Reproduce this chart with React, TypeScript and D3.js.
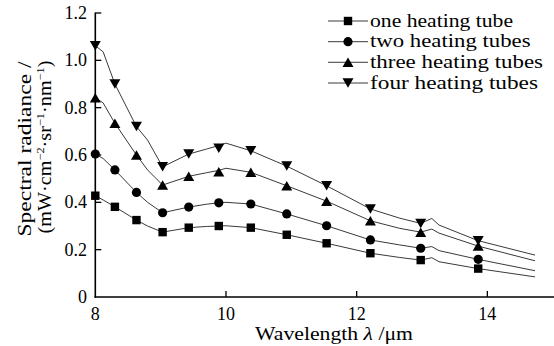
import React from "react";
import * as d3 from "d3";

const lineX = [8.0, 8.12, 8.3, 8.63, 8.8, 9.03, 9.43, 9.7, 9.89, 10.0, 10.38, 10.93, 11.54, 12.21, 12.66, 12.98, 13.15, 13.26, 13.86, 14.73];
const lineOne = [0.428, 0.41, 0.381, 0.325, 0.30, 0.274, 0.293, 0.298, 0.300, 0.301, 0.293, 0.263, 0.227, 0.185, 0.167, 0.156, 0.166, 0.149, 0.120, 0.085];
const lineTwo = [0.604, 0.585, 0.537, 0.442, 0.40, 0.356, 0.380, 0.392, 0.398, 0.400, 0.393, 0.351, 0.301, 0.241, 0.22, 0.206, 0.213, 0.196, 0.159, 0.111];
const lineThree = [0.842, 0.82, 0.734, 0.600, 0.537, 0.473, 0.510, 0.525, 0.535, 0.544, 0.527, 0.470, 0.405, 0.322, 0.29, 0.274, 0.287, 0.27, 0.215, 0.153];
const lineFour = [1.062, 1.036, 0.900, 0.720, 0.663, 0.550, 0.604, 0.625, 0.640, 0.650, 0.618, 0.553, 0.470, 0.372, 0.333, 0.311, 0.332, 0.304, 0.238, 0.177];

const markerX = [8.0, 8.3, 8.63, 9.03, 9.43, 9.89, 10.38, 10.93, 11.54, 12.21, 12.98, 13.86];
const markOne = [0.428, 0.381, 0.325, 0.274, 0.293, 0.300, 0.293, 0.263, 0.227, 0.185, 0.156, 0.120];
const markTwo = [0.604, 0.537, 0.442, 0.356, 0.380, 0.398, 0.393, 0.351, 0.301, 0.241, 0.206, 0.159];
const markThree = [0.842, 0.734, 0.600, 0.473, 0.510, 0.529, 0.527, 0.470, 0.405, 0.322, 0.274, 0.215];
const markFour = [1.062, 0.900, 0.720, 0.550, 0.604, 0.628, 0.618, 0.553, 0.470, 0.372, 0.311, 0.238];

const seriesNames = ["one heating tube", "two heating tubes", "three heating tubes", "four heating tubes"];
const seriesShapes = ["square", "circle", "up", "down"];
const xTicks = [8, 10, 12, 14];
const yTicks = [0, 0.2, 0.4, 0.6, 0.8, 1.0, 1.2];
const yTickLabels = ["0", "0.2", "0.4", "0.6", "0.8", "1.0", "1.2"];

const FONT = "'Liberation Serif', 'DejaVu Serif', serif";

function Marker({ shape, cx, cy }: { shape: string; cx: number; cy: number }) {
  if (shape === "square") return <rect x={cx - 4.2} y={cy - 4.2} width={8.4} height={8.4} fill="#000" />;
  if (shape === "circle") return <circle cx={cx} cy={cy} r={4.6} fill="#000" />;
  const w = 11, h = 9.5;
  if (shape === "up")
    return <path d={`M${cx - w / 2},${cy + h / 2}L${cx + w / 2},${cy + h / 2}L${cx},${cy - h / 2}Z`} fill="#000" />;
  return <path d={`M${cx - w / 2},${cy - h / 2}L${cx + w / 2},${cy - h / 2}L${cx},${cy + h / 2}Z`} fill="#000" />;
}

export default function App() {
  const x = d3.scaleLinear().domain([8, 15]).range([95.3, 552.7]);
  const y = d3.scaleLinear().domain([0, 1.2]).range([297, 13]);
  const lines = [lineOne, lineTwo, lineThree, lineFour];
  const marks = [markOne, markTwo, markThree, markFour];
  const gen = d3.line<number>().x((_, i) => x(lineX[i])).y((d) => y(d));
  const legendY = [21, 41.7, 62.3, 83];
  const legendW = [143, 160.5, 173, 168];
  const fs = 18;

  return (
    <svg width={554} height={346} style={{ position: "absolute", left: 0, top: 0, background: "#fff" }} fontFamily={FONT}>
      {lines.map((vals, si) => (
        <path key={si} d={gen(vals) || ""} fill="none" stroke="#3a3a3a" strokeWidth={1} />
      ))}
      {marks.map((vals, si) =>
        vals.map((v, i) => <Marker key={si + "-" + i} shape={seriesShapes[si]} cx={x(markerX[i])} cy={y(v)} />)
      )}
      {/* axes */}
      <line x1={x(8)} x2={x(8)} y1={y(1.2) - 0.5} y2={y(0) + 0.8} stroke="#000" strokeWidth={1.6} />
      <line x1={x(8) - 0.8} x2={554} y1={y(0)} y2={y(0)} stroke="#000" strokeWidth={1.6} />
      {yTicks.map((t, i) => (
        <g key={"yt" + i}>
          {t > 0 && <line x1={x(8)} x2={x(8) + 6} y1={y(t)} y2={y(t)} stroke="#000" strokeWidth={1.3} />}
          <text x={87} y={y(t)} dy="0.34em" textAnchor="end" fontSize={fs} fill="#000">
            {yTickLabels[i]}
          </text>
        </g>
      ))}
      {xTicks.map((t, i) => (
        <g key={"xt" + i}>
          {t > 8 && <line x1={x(t)} x2={x(t)} y1={y(0)} y2={y(0) - 6} stroke="#000" strokeWidth={1.3} />}
          <text x={x(t)} y={320} textAnchor="middle" fontSize={fs} fill="#000">
            {t}
          </text>
        </g>
      ))}
      <text x={255} y={340} fontSize={fs} fill="#000" textLength={158} lengthAdjust="spacingAndGlyphs">
        Wavelength <tspan fontStyle="italic">λ</tspan> /μm
      </text>
      <text transform="translate(31,149) rotate(-90)" x={-87.5} fontSize={fs} fill="#000" textLength={175} lengthAdjust="spacingAndGlyphs">
        Spectral radiance /
      </text>
      <text transform="translate(51,147) rotate(-90)" x={-86.5} fontSize={fs} fill="#000" textLength={173} lengthAdjust="spacingAndGlyphs">
        (mW·cm<tspan fontSize={11} dy={-7}>−2</tspan><tspan dy={7}>·sr</tspan>
        <tspan fontSize={11} dy={-7}>−1</tspan><tspan dy={7}>·nm</tspan>
        <tspan fontSize={11} dy={-7}>−1</tspan><tspan dy={7}>)</tspan>
      </text>
      {/* legend */}
      {seriesNames.map((name, i) => (
        <g key={"lg" + i}>
          <line x1={328} x2={368} y1={legendY[i]} y2={legendY[i]} stroke="#3a3a3a" strokeWidth={1} />
          <Marker shape={seriesShapes[i]} cx={348} cy={legendY[i]} />
          <text x={370} y={legendY[i]} dy="0.32em" fontSize={fs} fill="#000" textLength={legendW[i]} lengthAdjust="spacingAndGlyphs">
            {name}
          </text>
        </g>
      ))}
    </svg>
  );
}
